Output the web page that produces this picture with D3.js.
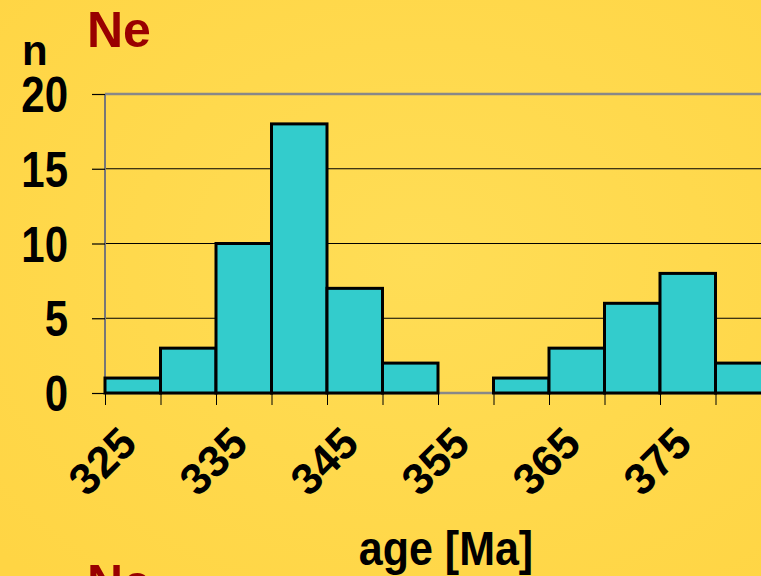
<!DOCTYPE html>
<html>
<head>
<meta charset="utf-8">
<script src="https://cdn.jsdelivr.net/npm/d3@7"></script>
<style>
  html, body { margin: 0; padding: 0; overflow: hidden; }
  text { font-family: "Liberation Sans", Arial, sans-serif; font-weight: bold; }
</style>
</head>
<body>
<div id="chart"></div>
<script>
// histogram bins (5 Ma wide), lower edges and counts
const binStarts = [325, 330, 335, 340, 345, 350, 355, 360, 365, 370, 375, 380];
const counts = [1, 3, 10, 18, 7, 2, 0, 1, 3, 6, 8, 2];
const binWidth = 5;
const xTickLabels = [325, 335, 345, 355, 365, 375];
const yTicks = [0, 5, 10, 15, 20];
const title = 'Ne';

const chartWidth = 761;
const chartHeight = 576;

const data = binStarts.map((s, i) => ({x0: s, x1: s + binWidth, n: counts[i]}));

//Scales
const xScale = d3.scaleLinear()
  .domain([325, 390])
  .range([105, 105 + 65 * 11.1]);

const yScale = d3.scaleLinear()
  .domain([0, 20])
  .range([393, 94]);

//Init chart
const chart = d3.select('#chart')
  .append('svg')
  .attr('width', chartWidth)
  .attr('height', chartHeight);

const grad = chart.append('defs')
  .append('radialGradient')
  .attr('id', 'bg')
  .attr('cx', '55%').attr('cy', '45%').attr('r', '75%');
grad.append('stop').attr('offset', '0%').attr('stop-color', '#FFDD56');
grad.append('stop').attr('offset', '100%').attr('stop-color', '#FFD544');

chart.append('rect')
  .attr('width', chartWidth)
  .attr('height', chartHeight)
  .attr('fill', 'url(#bg)');

//Grid lines
chart.append('g')
  .selectAll('line')
  .data(yTicks.filter(d => d > 0 && d < 20))
  .enter()
  .append('line')
  .attr('x1', xScale(325))
  .attr('x2', chartWidth)
  .attr('y1', d => yScale(d))
  .attr('y2', d => yScale(d))
  .attr('stroke', '#000')
  .attr('stroke-width', 1);

// top border & left axis line
chart.append('line')
  .attr('x1', xScale(325)).attr('x2', chartWidth)
  .attr('y1', yScale(20)).attr('y2', yScale(20))
  .attr('stroke', '#888').attr('stroke-width', 2.5);
chart.append('line')
  .attr('x1', xScale(325)).attr('x2', xScale(325))
  .attr('y1', yScale(20)).attr('y2', yScale(0))
  .attr('stroke', '#777').attr('stroke-width', 2);

// baseline
chart.append('line')
  .attr('x1', xScale(325)).attr('x2', chartWidth)
  .attr('y1', yScale(0)).attr('y2', yScale(0))
  .attr('stroke', '#888').attr('stroke-width', 2.5);

//Axes ticks
const yAxis = d3.axisLeft(yScale)
  .tickValues(yTicks)
  .tickSize(13)
  .tickPadding(24);
chart.append('g')
  .attr('class', 'y-axis')
  .attr('transform', `translate(${xScale(325)}, 0)`)
  .call(yAxis)
  .call(g => g.select('.domain').remove())
  .call(g => g.selectAll('.tick line').attr('stroke', '#000').attr('stroke-width', 1.2))
  .call(g => g.selectAll('.tick text')
    .attr('fill', '#000')
    .style('font-size', '42px')
    .attr('dy', '0.36em')
    .attr('transform', 'scale(1, 1.17)'));

const xAxis = d3.axisBottom(xScale)
  .tickValues(d3.range(325, 395, 5))
  .tickSize(12)
  .tickFormat('');
chart.append('g')
  .attr('class', 'x-axis')
  .attr('transform', `translate(0, ${yScale(0)})`)
  .call(xAxis)
  .call(g => g.select('.domain').remove())
  .call(g => g.selectAll('.tick line').attr('stroke', '#000').attr('stroke-width', 1));

//Bars
chart.append('g')
  .selectAll('rect')
  .data(data.filter(d => d.n > 0))
  .enter()
  .append('rect')
  .attr('x', d => xScale(d.x0))
  .attr('y', d => yScale(d.n))
  .attr('width', d => xScale(d.x1) - xScale(d.x0))
  .attr('height', d => yScale(0) - yScale(d.n))
  .attr('fill', '#33CCCC')
  .attr('stroke', '#000')
  .attr('stroke-width', 3);

//x tick labels
chart.append('g')
  .selectAll('text')
  .data(xTickLabels)
  .enter()
  .append('text')
  .text(d => d)
  .attr('transform', d => `translate(${xScale(d) + 34}, 446) rotate(-45)`)
  .attr('text-anchor', 'end')
  .style('font-size', '44px')
  .attr('fill', '#000');

//Labels
chart.append('text')
  .text(title)
  .attr('x', 87)
  .attr('y', 47)
  .style('font-size', '50px')
  .attr('fill', '#990000');

chart.append('text')
  .text('n')
  .attr('x', 22)
  .attr('y', 65)
  .style('font-size', '42px')
  .attr('fill', '#000');

chart.append('text')
  .text('age [Ma]')
  .attr('transform', 'translate(446, 565) scale(1, 1.1)')
  .attr('text-anchor', 'middle')
  .style('font-size', '43px')
  .attr('fill', '#000');

chart.append('text')
  .text(title)
  .attr('x', 87)
  .attr('y', 600)
  .style('font-size', '50px')
  .attr('fill', '#990000');
</script>
</body>
</html>
